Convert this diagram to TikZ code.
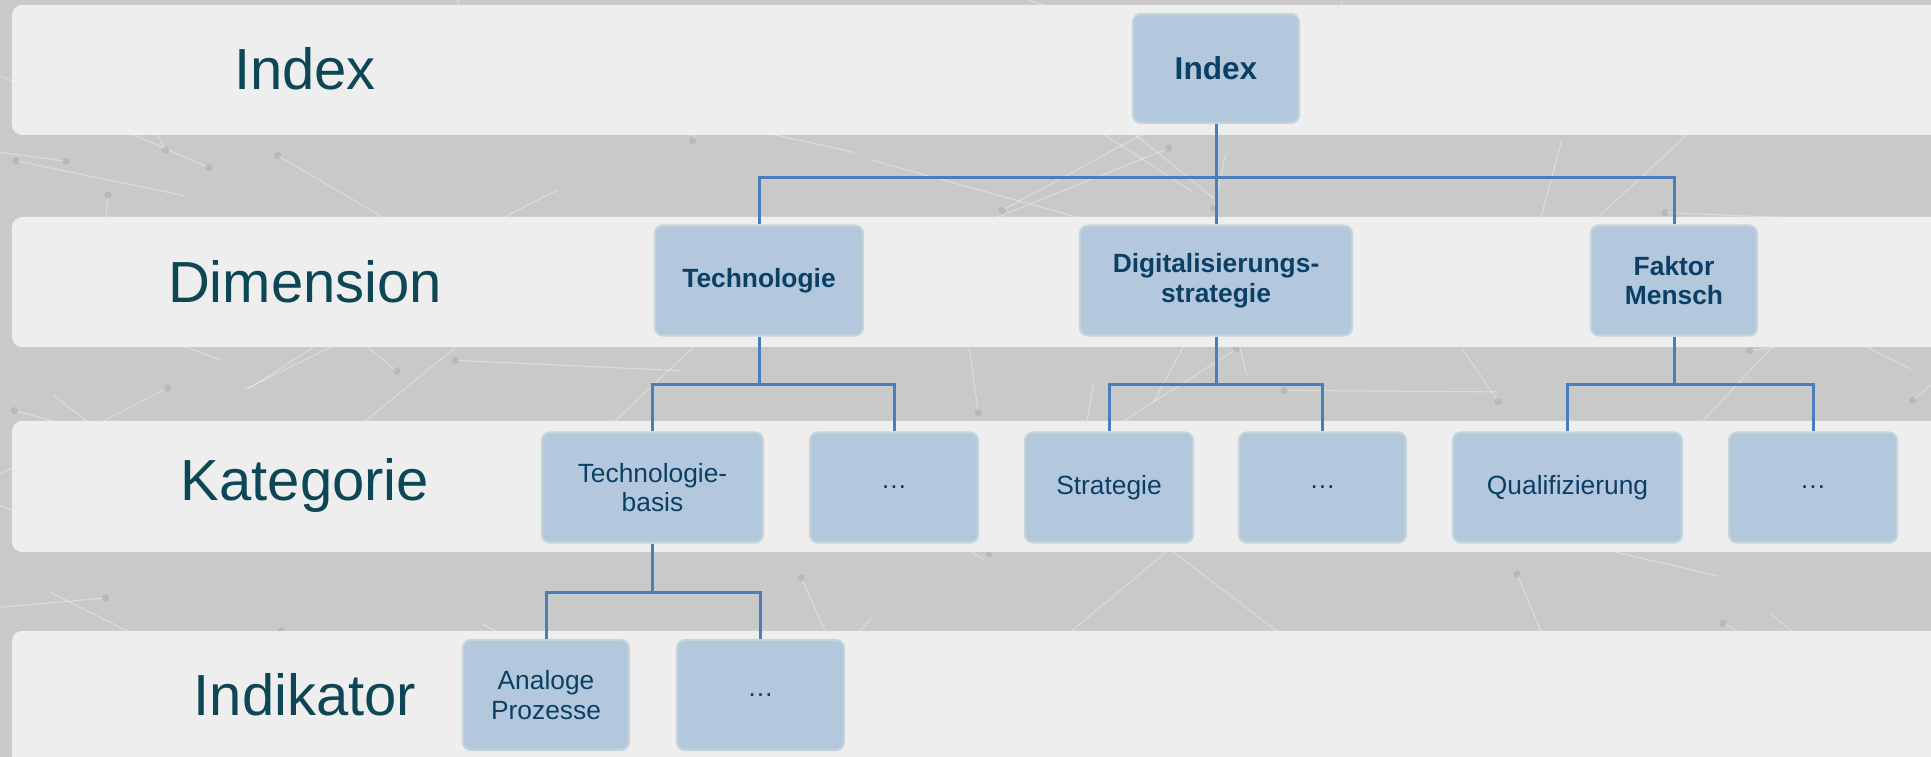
\documentclass[tikz,border=0pt]{standalone}
\usepackage{fontspec}
\setmainfont{Liberation Sans}
\usetikzlibrary{positioning}
\definecolor{bgGray}{HTML}{C8C9C8}
\definecolor{bandGray}{HTML}{EEEEEE}
\definecolor{labelTeal}{HTML}{0D4755}
\definecolor{boxBlue}{HTML}{B3C8DC}
\definecolor{boxEdge}{HTML}{C3D4DA}
\definecolor{boxText}{HTML}{0B3F66}
\definecolor{linkBlue}{HTML}{4A7EBB}
\tikzset{band/.style = { fill = bandGray, rounded corners = 0.1cm }}
\tikzset{mesh/.style = { draw = white, opacity = 0.35, line width = 0.3pt }, meshdot/.style = { fill = black!35, opacity = 0.5 }}

\begin{document}
\begin{tikzpicture}[y = -1cm, level/.style = { text = labelTeal, font = \fontsize{16.5}{20}\selectfont }, box/.style = { draw = boxEdge, line width = 0.6pt, fill = boxBlue, rounded corners = 0.08cm, text = boxText, align = center, minimum height = 1.1cm, inner sep = 0pt, font = \fontsize{7.5}{8.4}\selectfont }, headbox/.style = { box, font = \fontsize{7.5}{8.4}\selectfont\bfseries }, link/.style = { draw = linkBlue, line width = 0.85pt }]
				\useasboundingbox (0,0) rectangle (19.31,7.57);
				\clip (0,0) rectangle (19.31,7.57);
				\fill [bgGray] (0,0) rectangle (19.31,7.57);

				% faint network texture behind the bands
				\pgfmathsetseed{42}
				\foreach \k in {1,...,90} {
					\pgfmathsetmacro\xa{rnd*19.31}
					\pgfmathsetmacro\ya{rnd*7.57}
					\pgfmathsetmacro\xb{\xa+(rnd-0.5)*5}
					\pgfmathsetmacro\yb{\ya+(rnd-0.5)*3}
					\draw [mesh] (\xa,\ya) -- (\xb,\yb);
					\fill [meshdot] (\xa,\ya) circle (0.035);
				}

				\fill [band] (0.12,0.05) rectangle (19.6,1.35);
				\fill [band] (0.12,2.17) rectangle (19.6,3.47);
				\fill [band] (0.12,4.21) rectangle (19.6,5.52);
				\fill [band] (0.12,6.31) rectangle (19.6,7.8);

				\node [level] (lIndex) at (3.05,0.69) {Index};
				\node [level] (lDim) at (3.05,2.82) {Dimension};
				\node [level] (lKat) at (3.05,4.86) {Kategorie};
				\node [level] (lInd) at (3.05,6.95) {Indikator};

				\node [headbox, minimum width = 1.66cm, minimum height = 1.09cm, font = \fontsize{9}{10}\selectfont\bfseries] (idx) at (12.16,0.685) {Index};

				\node [headbox, minimum width = 2.08cm] (tech) at (7.59,2.805) {Technologie};
				\node [headbox, minimum width = 2.72cm] (dig) at (12.16,2.805) {Digitalisierungs-\\strategie};
				\node [headbox, minimum width = 1.66cm] (fak) at (16.74,2.805) {Faktor\\Mensch};

				\node [box, minimum width = 2.21cm] (tb) at (6.525,4.875) {Technologie-\\basis};
				\node [box, minimum width = 1.68cm] (tdots) at (8.94,4.875) {\dots};
				\node [box, minimum width = 1.68cm] (strat) at (11.09,4.875) {Strategie};
				\node [box, minimum width = 1.67cm] (sdots) at (13.225,4.875) {\dots};
				\node [box, minimum width = 2.29cm] (qual) at (15.675,4.875) {Qualifizierung};
				\node [box, minimum width = 1.68cm] (qdots) at (18.13,4.875) {\dots};

				\node [box, minimum width = 1.66cm] (ana) at (5.46,6.95) {Analoge\\Prozesse};
				\node [box, minimum width = 1.67cm] (adots) at (7.605,6.95) {\dots};

				\draw [link] (idx.south) -- ++(0,0.53) -| (tech.north);
				\draw [link] (idx.south) -- (dig.north);
				\draw [link] (idx.south) -- ++(0,0.53) -| (fak.north);

				\draw [link] (tech.south) -- ++(0,0.48) -| (tb.north);
				\draw [link] (tech.south) -- ++(0,0.48) -| (tdots.north);
				\draw [link] (dig.south) -- ++(0,0.48) -| (strat.north);
				\draw [link] (dig.south) -- ++(0,0.48) -| (sdots.north);
				\draw [link] (fak.south) -- ++(0,0.48) -| (qual.north);
				\draw [link] (fak.south) -- ++(0,0.48) -| (qdots.north);

				\draw [link] (tb.south) -- ++(0,0.49) -| (ana.north);
				\draw [link] (tb.south) -- ++(0,0.49) -| (adots.north);
			\end{tikzpicture}
\end{document}
